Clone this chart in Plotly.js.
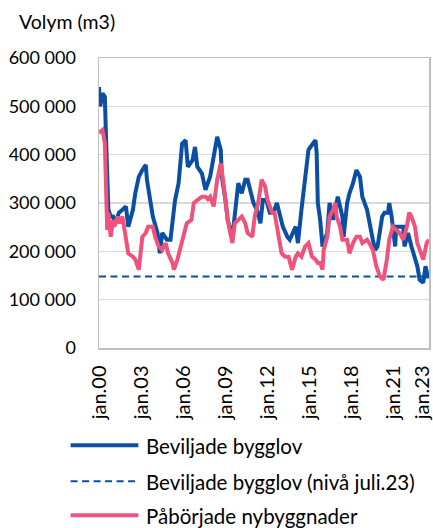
<!DOCTYPE html>
<html>
<head>
<meta charset="utf-8">
<script src="https://cdn.plot.ly/plotly-3.0.1.min.js"></script>
<style>html,body{margin:0;padding:0;background:#fff;}#chart{width:433px;height:528px;}</style>
</head>
<body>
<div id="chart"></div>
<script>
// Month index: 0 = jan 2000
const permitMonths = [0,1,3,5,6,7,8,10,12,14,17,20,23,25,29,31,34,37,40,41,44,46,50,52,54,56,58,61,63,65,68,71,74,76,80,82,84,88,91,93,95,98,101,104,105,108,110,114,116,119,122,125,127,129,132,135,138,140,143,146,149,152,155,157,161,163,168,170,173,176,179,182,185,186,187,189,191,195,197,200,204,208,209,212,214,217,220,223,225,229,231,234,236,238,242,244,247,248,250,253,254,257,260,261,264,267,270,272,274,277,279,281,282];
const permitValues = [540000,500000,527000,520000,437000,334000,286000,272000,272000,258000,280000,286000,293000,251000,286000,320000,354000,368000,379000,348000,306000,272000,238000,196000,238000,230000,224000,224000,258000,306000,341000,423000,430000,375000,389000,416000,375000,361000,327000,341000,355000,396000,437000,410000,354000,306000,265000,230000,280000,341000,320000,348000,348000,327000,300000,286000,258000,306000,306000,280000,280000,300000,265000,251000,230000,224000,251000,217000,286000,341000,410000,420000,430000,405000,300000,265000,210000,238000,300000,265000,313000,272000,230000,300000,320000,341000,368000,354000,313000,286000,258000,224000,203000,210000,272000,280000,280000,300000,272000,210000,251000,251000,251000,210000,238000,210000,183000,169000,141000,135000,169000,148000,148000];

const startMonths = [0,3,5,6,7,8,10,12,13,16,18,20,23,25,29,31,34,35,37,40,42,46,48,51,54,57,59,63,64,67,70,73,75,79,81,84,88,91,93,95,98,101,104,106,108,110,114,116,119,122,125,127,131,133,136,139,142,144,148,150,153,156,159,162,165,168,170,173,176,179,182,185,187,189,191,192,195,197,200,202,203,206,208,212,214,217,220,223,225,229,231,234,237,240,243,246,248,251,254,257,260,263,265,267,270,272,277,280,282];
const startValues = [445000,451000,424000,334000,244000,280000,230000,265000,251000,272000,258000,272000,230000,196000,189000,183000,162000,189000,230000,238000,251000,251000,230000,210000,203000,217000,196000,175000,162000,183000,210000,244000,258000,265000,300000,306000,313000,313000,308000,313000,293000,348000,382000,348000,300000,265000,217000,258000,265000,272000,258000,238000,230000,272000,300000,348000,334000,306000,280000,280000,238000,196000,189000,189000,162000,189000,196000,189000,210000,217000,189000,183000,176000,176000,162000,203000,230000,272000,286000,300000,272000,251000,224000,224000,196000,217000,230000,230000,217000,224000,217000,203000,169000,148000,141000,183000,224000,251000,244000,238000,224000,251000,280000,272000,251000,217000,183000,217000,224000];

const seriesNames = ['Beviljade bygglov','Beviljade bygglov (nivå juli.23)','Påbörjade nybyggnader'];
const tickLabels = ['jan.00','jan.03','jan.06','jan.09','jan.12','jan.15','jan.18','jan.21','jan.23'];
const tickMonths = [0,36,72,108,144,180,216,252,276];
const yTicks = [0,100000,200000,300000,400000,500000,600000];

const toDate = m => (2000 + Math.floor(m/12)) + '-' + String(m%12+1).padStart(2,'0') + '-01';

const BLUE = '#0A4FA3';
const PINK = '#EF527A';
const FONT = 'Lato, "Liberation Sans", sans-serif';
const DASH = '7px,4.5px';

const level = permitValues[permitValues.length-1];
const firstM = permitMonths[0], lastM = permitMonths[permitMonths.length-1];

const traces = [
  {x: permitMonths.map(toDate), y: permitValues, type:'scatter', mode:'lines', name: seriesNames[0],
   line:{color:BLUE, width:4}, showlegend:false},
  {x: [toDate(firstM), toDate(lastM)], y: [level, level], type:'scatter', mode:'lines', name: seriesNames[1],
   line:{color:BLUE, width:2, dash:DASH}, showlegend:false},
  {x: startMonths.map(toDate), y: startValues, type:'scatter', mode:'lines', name: seriesNames[2],
   line:{color:PINK, width:4}, showlegend:false}
];

// legend drawn in paper coordinates (plot area: x 98.5..429.5, y 58..348.5 px)
const W = 331, H = 290.5;
const px = x => (x - 98.5)/W;
const py = y => (348.5 - y)/H;
const legendRows = [446, 482, 516];
const legendDash = ['solid', DASH, 'solid'];
const legendColor = [BLUE, BLUE, PINK];
const legendWidth = [4, 2, 4];
const shapes = [], annotations = [];
legendRows.forEach((yy,i) => {
  shapes.push({type:'line', xref:'paper', yref:'paper', x0:px(70), x1:px(138), y0:py(yy), y1:py(yy),
    line:{color:legendColor[i], width:legendWidth[i], dash:legendDash[i]}});
  annotations.push({xref:'paper', yref:'paper', x:px(144), y:py(yy+1), xanchor:'left', yanchor:'middle',
    text: seriesNames[i], showarrow:false, font:{family:FONT, size:20.5, color:'#000'}});
});

const layout = {
  width:433, height:528,
  margin:{l:98.5, r:3.5, t:58, b:179.5},
  paper_bgcolor:'#fff', plot_bgcolor:'#fff',
  separators:', ',
  font:{family:FONT, size:18, color:'#000'},
  title:{text:'Volym (m3)', x:19/433, xanchor:'left', xref:'container', y:1-22/528, yanchor:'middle', yref:'container',
    font:{family:FONT, size:19.5, color:'#000'}},
  xaxis:{type:'date', range:[toDate(0), toDate(282)], tickvals: tickMonths.map(toDate), ticktext: tickLabels,
    tickangle:-90, showgrid:false, zeroline:false, showline:true, mirror:true, linecolor:'#BFBFBF', linewidth:1.5,
    ticks:'', ticklabelstandoff:8, tickfont:{family:FONT, size:20, color:'#000'}},
  yaxis:{range:[0,600000], tickvals:yTicks, tickformat:',d', showgrid:true, gridcolor:'#D9D9D9', gridwidth:1.5,
    zeroline:false, showline:true, mirror:true, linecolor:'#BFBFBF', linewidth:1.5, ticks:'', ticklabelstandoff:18,
    tickfont:{family:FONT, size:18, color:'#000'}},
  shapes: shapes,
  annotations: annotations,
  showlegend:false
};

Plotly.newPlot('chart', traces, layout, {staticPlot:true, displayModeBar:false});
</script>
</body>
</html>
